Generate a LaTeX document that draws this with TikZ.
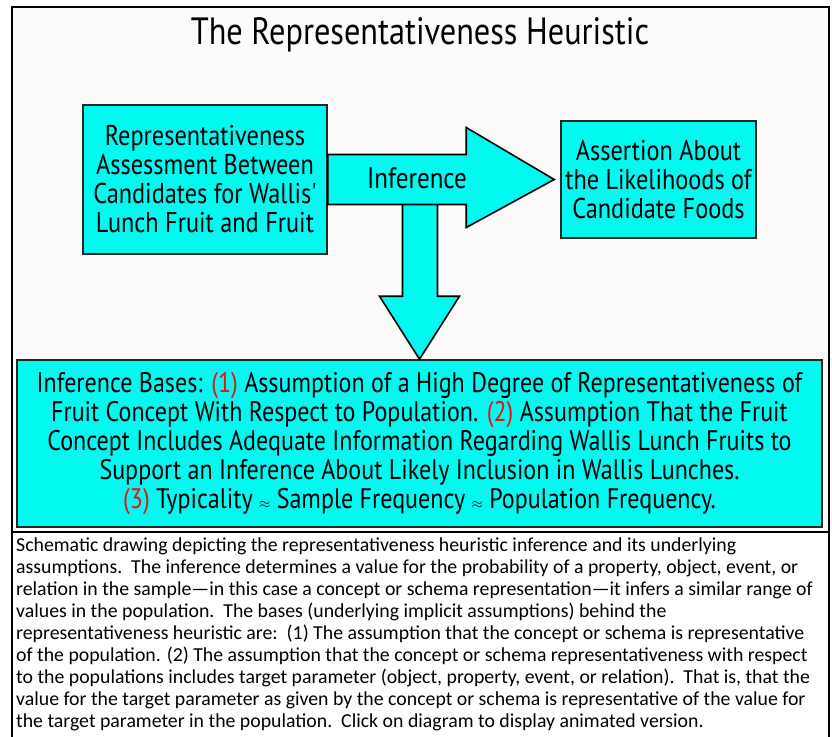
\documentclass[tikz,border=0pt]{standalone}
\usepackage{fontspec}
\usepackage{tikz}
\usetikzlibrary{calc}
\newfontfamily\comic[FakeStretch=0.85]{PT Sans}
\newfontfamily\capfont{Carlito}
\definecolor{boxcyan}{RGB}{0,250,240}
\definecolor{paper}{RGB}{252,251,250}
\definecolor{numred}{RGB}{230,20,20}
\newcommand{\apx}{{\fontsize{14}{14}\selectfont$\approx$}}

\begin{document}
\begin{tikzpicture}[x=1pt,y=-1pt,
    box/.style={draw=black!85,line width=1.6pt,fill=boxcyan,align=center,inner sep=0pt,
      font=\comic\fontsize{28.6}{29}\selectfont},
    blockarrow/.style={draw=black,line width=1.6pt,fill=boxcyan,line join=miter},
    num/.style={text=numred}]
            \useasboundingbox (0,0) rectangle (832,736);
            \fill[paper] (12,7) rectangle (829,532);
            \draw[line width=1.6pt] (12,740) -- (12,7) -- (829,7) -- (829,740);
            \draw[line width=1.6pt] (12,532) -- (829,532);
            \node[font=\comic\fontsize{38}{40}\selectfont] (title) at (420,35) {The Representativeness Heuristic};
            \node[box,minimum width=244pt,minimum height=149pt] (assess) at (205,179.5)
                {Representativeness\\Assessment Between\\Candidates for Wallis'\\Lunch Fruit and Fruit};
            \node[box,minimum width=195pt,minimum height=117pt] (assert) at (658.5,179.5)
                {Assertion About\\the Likelihoods of\\Candidate Foods};
            \node[box,minimum width=805pt,minimum height=167pt,font=\comic\fontsize{28.3}{29}\selectfont] (bases) at (419.5,443.5)
                {Inference Bases: \textcolor{numred}{(1)} Assumption of a High Degree of Representativeness of\\
                 Fruit Concept With Respect to Population. \textcolor{numred}{(2)} Assumption That the Fruit\\
                 Concept Includes Adequate Information Regarding Wallis Lunch Fruits to\\
                 Support an Inference About Likely Inclusion in Wallis Lunches.\\
                 \textcolor{numred}{(3)} Typicality \apx{} Sample Frequency \apx{} Population Frequency.};
            \coordinate (S) at (assess.east);
            \coordinate (T) at ($(assert.west)+(-6,0)$);
            \coordinate (D) at (bases.north);
            \draw[blockarrow] ($(D)+(-17,-157)$) -- ($(D)+(-17,-63)$) -- ($(D)+(-40,-63)$) -- (D)
                -- ($(D)+(40,-63)$) -- ($(D)+(18,-63)$) -- ($(D)+(18,-157)$) -- cycle;
            \draw[blockarrow] ($(S)+(0,-25)$) -- ($(T)+(-88,-25)$) -- ($(T)+(-88,-52)$) -- (T)
                -- ($(T)+(-88,48)$) -- ($(T)+(-88,25)$) -- ($(S)+(0,25)$) -- cycle;
            \node[font=\comic\fontsize{29.5}{29}\selectfont] (infer) at (417,178) {Inference};
            \node[anchor=north west,align=left,inner sep=0pt,font=\capfont\fontsize{19.8}{22}\selectfont] (caption) at (16,538)
                {Schematic drawing depicting the representativeness heuristic inference and its underlying\\
                 assumptions.\ \ The inference determines a value for the probability of a property, object, event, or\\
                 relation in the sample—in this case a concept or schema representation—it infers a similar range of\\
                 values in the population.\ \ The bases (underlying implicit assumptions) behind the\\
                 representativeness heuristic are:\ \ (1) The assumption that the concept or schema is representative\\
                 of the population. (2) The assumption that the concept or schema representativeness with respect\\
                 to the populations includes target parameter (object, property, event, or relation).\ \ That is, that the\\
                 value for the target parameter as given by the concept or schema is representative of the value for\\
                 the target parameter in the population.\ \ Click on diagram to display animated version.};
        \end{tikzpicture}
\end{document}
